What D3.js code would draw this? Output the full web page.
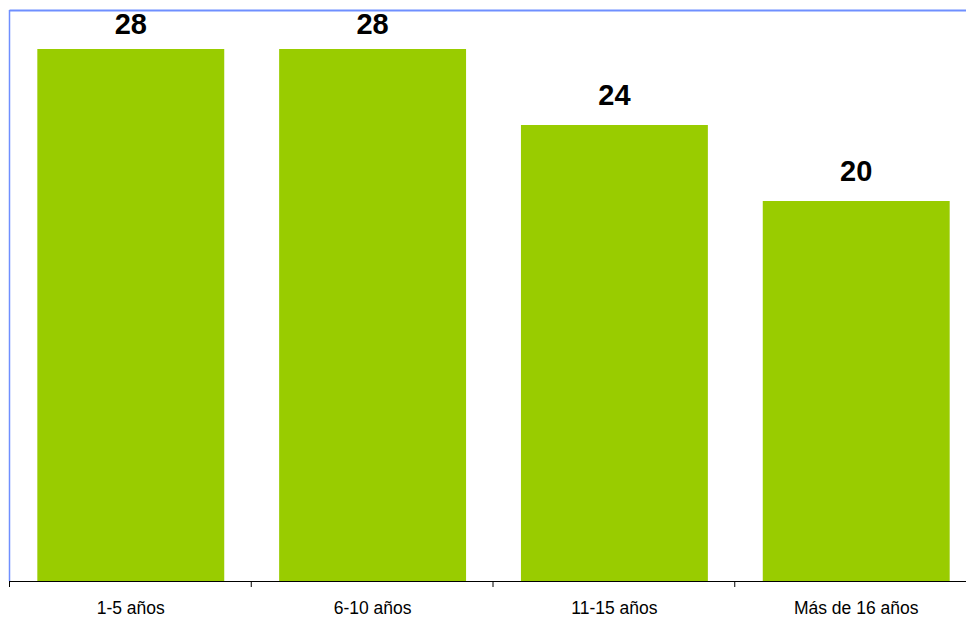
<!DOCTYPE html>
<html><head><meta charset="utf-8">
<script src="https://cdn.jsdelivr.net/npm/d3@7"></script>
<style>body{margin:0;background:#fff}svg{display:block}</style>
</head><body>
<script>
const categories = ["1-5 años", "6-10 años", "11-15 años", "Más de 16 años"];
const values = [28, 28, 24, 20];

const W = 966, H = 617;
const svg = d3.select("body").append("svg").attr("width", W).attr("height", H);
const x0 = 10, x1 = 977, yTop = 11, yBot = 581;
const x = d3.scaleBand().domain(categories).range([x0, x1]).paddingInner(0.227).paddingOuter(0.113);
const y = d3.scaleLinear().domain([0, 30]).range([yBot, yTop]);

// border
svg.append("line").attr("x1", x0 - 0.5).attr("x2", W).attr("y1", 10.5).attr("y2", 10.5).attr("stroke", "#6f8fff").attr("stroke-width", 2);
svg.append("line").attr("x1", x0 - 0.5).attr("x2", x0 - 0.5).attr("y1", 10).attr("y2", yBot).attr("stroke", "#6f8fff").attr("stroke-width", 1.5);

svg.selectAll("rect.bar").data(values).join("rect").attr("class", "bar")
  .attr("x", (d, i) => x(categories[i])).attr("width", x.bandwidth())
  .attr("y", d => y(d)).attr("height", d => yBot - y(d)).attr("fill", "#99cc00");

svg.selectAll("text.val").data(values).join("text").attr("class", "val")
  .attr("x", (d, i) => x(categories[i]) + x.bandwidth() / 2).attr("y", d => Math.max(y(d) - 20, 33.5))
  .attr("text-anchor", "middle").attr("font-family", "Liberation Sans, Arial, sans-serif")
  .attr("font-weight", "bold").attr("font-size", 29).text(d => d);

// x axis
const xa = d3.scalePoint().domain(d3.range(5)).range([x0 - 0.5, x0 - 0.5 + (x1 - x0)]);
const ax = svg.append("g");
ax.append("line").attr("x1", x0 - 1).attr("x2", W).attr("y1", yBot + 0.5).attr("y2", yBot + 0.5).attr("stroke", "#000");
ax.selectAll("line.tick").data(d3.range(5)).join("line").attr("class", "tick")
  .attr("x1", d => xa(d)).attr("x2", d => xa(d)).attr("y1", yBot).attr("y2", yBot + 6).attr("stroke", "#000");
ax.selectAll("text").data(categories).join("text")
  .attr("x", d => x(d) + x.bandwidth() / 2).attr("y", 614)
  .attr("text-anchor", "middle").attr("font-family", "Liberation Sans, Arial, sans-serif")
  .attr("font-size", 17.5).attr("fill", "#000").text(d => d);
</script>
</body></html>
